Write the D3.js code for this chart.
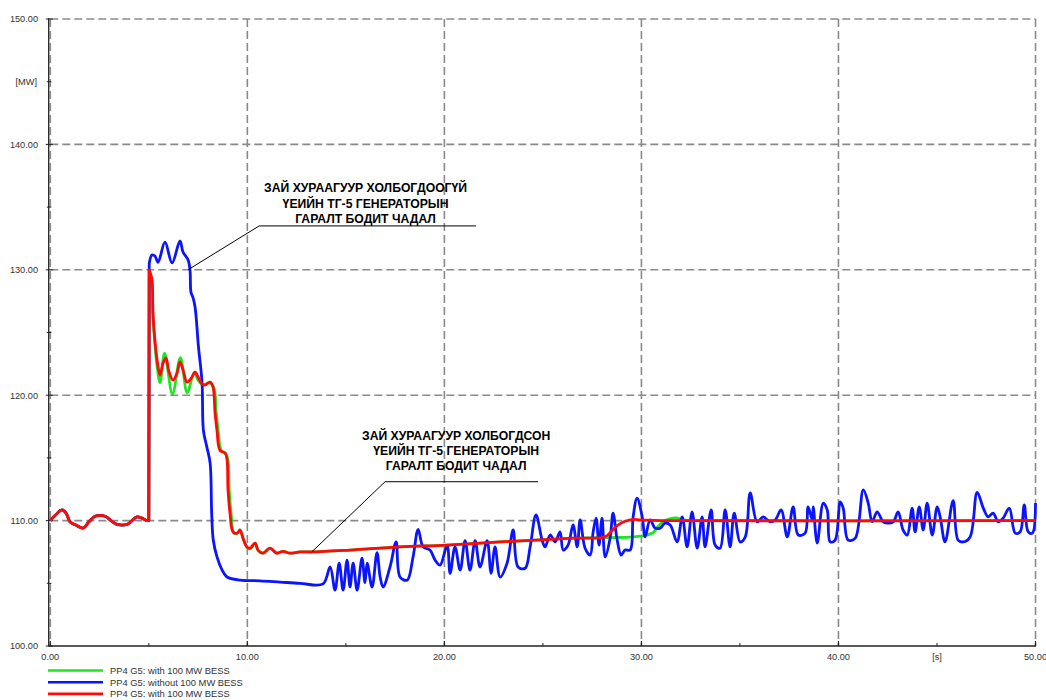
<!DOCTYPE html>
<html><head><meta charset="utf-8">
<script src="https://cdn.jsdelivr.net/npm/d3@7"></script>
<style>body{margin:0;background:#fff}svg{display:block}text{font-family:"Liberation Sans",Arial,sans-serif}</style>
</head><body><svg id="c" width="1046" height="700"></svg>
<script>
// ---- data ----
const xTicks = [0, 10, 20, 30, 40, 50];
const yTicks = [100, 110, 120, 130, 140, 150];
const xTickLabels = ["0.00", "10.00", "20.00", "30.00", "40.00", "50.00"];
const yTickLabels = ["100.00", "110.00", "120.00", "130.00", "140.00", "150.00"];
const seriesNames = ["PP4 G5: with 100 MW BESS", "PP4 G5: without 100 MW BESS", "PP4 G5: with 100 MW BESS"];
const annotation1 = ["ЗАЙ ХУРААГУУР ХОЛБОГДООГҮЙ", "ҮЕИЙН ТГ-5 ГЕНЕРАТОРЫН", "ГАРАЛТ БОДИТ ЧАДАЛ"];
const annotation2 = ["ЗАЙ ХУРААГУУР ХОЛБОГДСОН", "ҮЕИЙН ТГ-5 ГЕНЕРАТОРЫН", "ГАРАЛТ БОДИТ ЧАДАЛ"];

// common pre-event trace [t, MW]
const preEvent = [[0,110.0],[0.24,110.4],[0.59,110.85],[0.8,110.6],[1.0,109.9],[1.3,109.65],[1.66,109.4],[1.96,109.9],[2.27,110.35],[2.78,110.35],[3.08,110.0],[3.39,109.7],[3.89,109.7],[4.15,110.0],[4.4,110.3],[4.65,110.2],[4.9,110.0],[5.0,110.0]];

const redAfter = [[5.02,130.0],[5.16,129.2],[5.21,126.55],[5.31,124.4],[5.42,122.8],[5.57,121.6],[5.72,122.55],[5.87,122.95],[6.03,121.85],[6.23,121.2],[6.43,121.75],[6.58,122.65],[6.74,122.0],[6.94,121.05],[7.19,121.45],[7.35,121.85],[7.5,121.45],[7.7,120.9],[7.85,120.8],[8.11,121.05],[8.26,120.65],[8.36,118.6],[8.46,117.2],[8.61,115.6],[8.87,115.4],[8.97,114.85],[9.02,112.45],[9.12,110.6],[9.27,109.1],[9.48,109.0],[9.63,109.25],[9.78,108.6],[9.98,107.9],[10.13,107.8],[10.39,108.2],[10.54,107.65],[10.8,107.4],[11.15,107.8],[11.5,107.4],[11.81,107.55],[12.17,107.4],[12.68,107.5],[13.33,107.5],[15.21,107.65],[17.75,107.9],[20.14,108.05],[22.83,108.3],[25.37,108.5],[26.54,108.6],[28.0,108.65],[28.26,108.8],[28.51,109.2],[28.77,109.6],[29.17,109.95],[29.58,110.1],[29.93,110.05],[31.0,110.0],[50.0,110.0]];

const greenAfter = [[5.02,130.0],[5.16,129.0],[5.21,126.2],[5.31,124.0],[5.42,122.3],[5.57,121.0],[5.8,123.35],[6.2,120.1],[6.6,123.0],[6.95,120.2],[7.3,121.8],[7.5,121.2],[7.75,120.8],[8.05,121.0],[8.3,120.6],[8.42,118.6],[8.52,117.2],[8.67,115.6],[8.92,115.3],[9.02,114.8],[9.08,112.4],[9.18,110.5],[9.32,109.0],[9.5,109.0],[9.63,109.25],[9.8,108.5],[10.0,107.85],[10.15,107.75],[10.41,108.2],[10.56,107.6],[10.8,107.4],[11.15,107.8],[11.5,107.4],[11.81,107.55],[12.17,107.4],[12.68,107.5],[13.33,107.5],[15.21,107.65],[17.75,107.9],[20.14,108.05],[22.83,108.3],[25.37,108.5],[26.54,108.6],[28.0,108.65],[28.5,108.65],[29.4,108.68],[30.1,108.8],[30.6,109.05],[30.87,109.6],[31.2,110.0],[31.6,110.2],[31.85,110.2],[32.1,110.05],[33.0,110.0],[50.0,110.0]];

const blueAfter = [[5.02,130.5],[5.16,131.18],[5.31,131.1],[5.47,130.6],[5.82,132.2],[6.18,130.55],[6.58,132.3],[6.74,131.4],[6.99,130.8],[7.09,130.0],[7.14,128.2],[7.24,127.8],[7.35,127.0],[7.52,123.85],[7.7,121.05],[7.77,117.2],[7.94,115.9],[8.11,114.6],[8.19,110.6],[8.27,108.45],[8.46,107.1],[8.72,106.05],[8.97,105.5],[9.63,105.25],[10.64,105.2],[11.66,105.1],[12.67,105.0],[13.84,104.95],
[14.2,106.3],[14.45,104.45],[14.66,106.6],[14.86,104.45],[15.06,106.85],[15.21,104.7],[15.37,106.6],[15.57,104.45],[15.82,107.0],[15.97,105.05],[16.08,106.6],[16.33,104.7],[16.58,107.45],[16.74,105.5],[16.89,104.7],[17.24,106.3],[17.55,108.3],[17.75,105.5],[18.11,105.25],[18.41,107.1],[18.67,109.3],[18.92,107.9],[19.27,107.65],[19.53,106.85],[19.78,106.45],[20.14,108.05],[20.29,105.8],[20.54,107.9],[20.8,106.05],[21.05,108.4],[21.3,106.05],[21.56,108.4],[21.81,106.3],[22.17,108.4],[22.37,105.8],[22.57,107.9],[22.83,105.5],[23.18,106.6],[23.49,109.25],[23.74,106.3],[24.1,106.2],[24.35,107.9],[24.65,110.45],[24.96,108.45],[25.11,107.9],[25.37,108.85],[25.62,108.3],[25.87,109.1],[26.03,107.65],[26.28,108.05],[26.53,109.65],[26.74,107.9],[26.89,110.05],[27.14,107.8],[27.4,107.25],[27.55,109.1],[27.7,110.2],[27.85,108.05],[28.0,110.2],[28.16,107.1],[28.41,108.6],[28.56,110.6],[28.77,108.45],[28.97,107.25],[29.17,107.65],[29.43,107.65],[29.58,110.3],[29.78,111.8],[30.04,110.3],[30.19,108.7],[30.44,110.05],[30.7,109.4],[30.95,109.4],[31.2,109.8],[31.46,109.65],[31.81,108.3],[32.07,110.3],[32.32,107.9],[32.57,110.7],[32.83,107.8],[33.08,110.3],[33.23,107.9],[33.54,110.85],[33.74,108.05],[33.99,107.8],[34.25,110.85],[34.5,107.9],[34.71,110.6],[35.01,108.3],[35.27,108.7],[35.52,112.2],[35.87,109.9],[36.18,110.3],[36.53,109.9],[36.79,110.05],[37.09,110.85],[37.4,108.7],[37.7,111.1],[37.96,108.85],[38.31,109.0],[38.46,111.1],[38.67,110.05],[38.72,111.1],[38.92,108.2],[39.23,111.4],[39.43,110.85],[39.58,108.3],[39.83,108.45],[40.09,111.5],[40.24,111.0],[40.49,108.45],[40.85,108.6],[41.26,112.45],[41.51,111.4],[41.71,109.9],[41.96,110.7],[42.27,109.9],[42.47,109.8],[42.78,109.9],[43.03,110.7],[43.28,109.25],[43.49,108.85],[43.74,111.0],[43.89,109.1],[44.1,111.1],[44.3,109.25],[44.5,111.4],[44.76,108.85],[45.01,111.1],[45.16,110.3],[45.41,108.3],[45.82,111.6],[46.07,108.45],[46.33,108.3],[46.68,108.7],[47.04,112.25],[47.35,111.0],[47.6,110.3],[47.85,110.6],[48.11,109.9],[48.36,110.2],[48.67,111.0],[48.97,109.0],[49.22,109.1],[49.43,111.25],[49.63,109.1],[49.84,109.0],[50.0,111.4]];

const seriesColors = ["#1ee61e", "#0a14ff", "#ff0a0a"];

// ---- layout ----
const svg = d3.select("#c");
const x = d3.scaleLinear().domain([0, 50]).range([50.3, 1035.5]);
const y = d3.scaleLinear().domain([100, 150]).range([646, 19]);

svg.append("rect").attr("width",1046).attr("height",700).attr("fill","#fff");

// grid
const grid = svg.append("g").attr("stroke","#8a8a8a").attr("stroke-width",1.6).attr("stroke-dasharray","8,4").attr("fill","none");
grid.selectAll("line.h").data(yTicks.filter(d=>d>100)).join("line")
  .attr("x1",x(0)).attr("x2",x(50)).attr("y1",d=>y(d)).attr("y2",d=>y(d));
grid.selectAll("line.v").data(xTicks).join("line")
  .attr("y1",y(150)).attr("y2",y(100)).attr("x1",d=>x(d)).attr("x2",d=>x(d));

// axes
const axG = svg.append("g").attr("stroke","#222").attr("fill","none");
axG.append("line").attr("x1",x(0)-1.6).attr("x2",x(0)-1.6).attr("y1",y(150)-1).attr("y2",y(100)).attr("stroke-width",1.3);
axG.append("line").attr("x1",x(0)-2).attr("x2",x(50)+0.5).attr("y1",y(100)).attr("y2",y(100)).attr("stroke-width",1.3);
const yMinor = d3.range(105,150,10);
axG.selectAll("line.yt").data(yTicks).join("line").attr("x1",x(0)-4.5).attr("x2",x(0)+2.5).attr("y1",d=>y(d)).attr("y2",d=>y(d)).attr("stroke-width",1);
axG.selectAll("line.ym").data(yMinor).join("line").attr("x1",x(0)-3.5).attr("x2",x(0)+1).attr("y1",d=>y(d)).attr("y2",d=>y(d)).attr("stroke-width",1);
const xMinor = d3.range(5,50,10);
axG.selectAll("line.xt").data(xTicks).join("line").attr("y1",y(100)).attr("y2",y(100)-5).attr("x1",d=>x(d)).attr("x2",d=>x(d)).attr("stroke-width",1.2);
axG.selectAll("line.xm").data(xMinor).join("line").attr("y1",y(100)).attr("y2",y(100)-3).attr("x1",d=>x(d)).attr("x2",d=>x(d)).attr("stroke-width",1);

const lab = svg.append("g").attr("font-size","9.2px").attr("fill","#333");
lab.selectAll("text.y").data(yTicks).join("text").attr("x",38).attr("y",d=>y(d)+3.3).attr("text-anchor","end").text((d,i)=>yTickLabels[i]);
lab.append("text").attr("x",37).attr("y",y(145)+3.3).attr("text-anchor","end").text("[MW]");
lab.selectAll("text.x").data(xTicks).join("text").attr("x",d=>x(d)).attr("y",660).attr("text-anchor","middle").text((d,i)=>xTickLabels[i]);
lab.append("text").attr("x",x(45)).attr("y",660).attr("text-anchor","middle").text("[s]");

// series: smooth before and after the step, straight vertical jump at t = 5 s
const smooth = d3.line().x(d=>x(d[0])).y(d=>y(d[1])).curve(d3.curveCatmullRom.alpha(0.5));
const afterParts = [greenAfter, blueAfter, redAfter];
svg.append("g").selectAll("path").data(afterParts).join("path")
  .attr("d",d=>smooth(preEvent) + smooth(d).replace(/^M/,"L"))
  .attr("fill","none").attr("stroke",(d,i)=>seriesColors[i])
  .attr("stroke-width",2.8).attr("stroke-linejoin","round");

// annotations
function annotate(lines, anchor, elbow, endT, textT, firstDy){
  const g = svg.append("g");
  g.append("path").attr("d", `M${x(anchor[0])},${y(anchor[1])}L${x(elbow[0])},${y(elbow[1])}L${x(endT)},${y(elbow[1])}`)
    .attr("fill","none").attr("stroke","#000").attr("stroke-width",1);
  g.selectAll("text").data(lines).join("text")
    .attr("x",x(textT)).attr("y",(d,i)=>y(elbow[1])+firstDy+i*15.3)
    .attr("text-anchor","middle").attr("font-weight","bold").attr("font-size","12.2px").attr("fill","#000").text(d=>d);
}
annotate(annotation1, [6.99,130.0], [10.6,133.5], 21.6, 16.0, -33.5);
annotate(annotation2, [13.27,107.5], [16.99,113.1], 24.76, 20.6, -42);

// legend
const leg = svg.append("g");
seriesNames.forEach((n,i)=>{
  const ly = 670.5 + i*11.7;
  leg.append("line").attr("x1",48).attr("x2",103).attr("y1",ly).attr("y2",ly).attr("stroke",seriesColors[i]).attr("stroke-width",2.6);
  leg.append("text").attr("x",110).attr("y",ly+3.3).attr("font-size","9.4px").attr("fill","#333").text(n);
});
</script></body></html>
